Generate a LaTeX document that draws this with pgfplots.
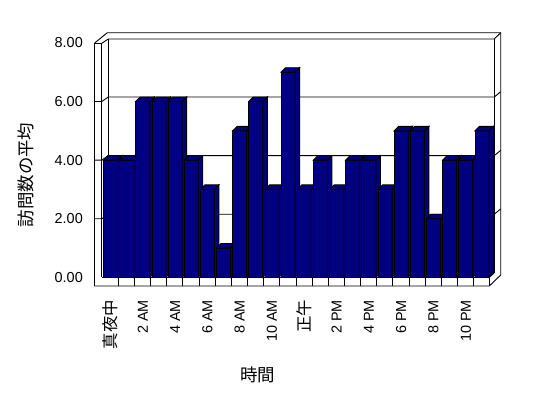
\documentclass[border=0pt]{standalone}
\usepackage{fontspec}
\setmainfont{Liberation Sans}
\newfontfamily\cjk{Noto Sans CJK JP}
\usepackage{pgfplots}
\usepackage{pgfplotstable}
\pgfplotsset{compat=1.18}
\definecolor{barblue}{RGB}{0,0,128}

\pgfplotstableread{
h v
0 4
1 4
2 6
3 6
4 6
5 4
6 3
7 1
8 5
9 6
10 3
11 7
12 3
13 4
14 3
15 4
16 4
17 3
18 5
19 5
20 2
21 4
22 4
23 5
}\visits

\pgfdeclareplotmark{box3d}{%
  \pgfmathsetmacro\hh{\val*29.3}%
  \pgfsetlinewidth{0.9bp}%
  \pgfsetstrokecolor{black}\pgfsetfillcolor{barblue}%
  \pgfpathrectanglecorners{\pgfpoint{-7bp}{0bp}}{\pgfpoint{7bp}{-\hh bp}}%
  \pgfusepath{fill,stroke}%
  \pgfpathmoveto{\pgfpoint{7bp}{0bp}}%
  \pgfpathlineto{\pgfpoint{11.5bp}{4.5bp}}%
  \pgfpathlineto{\pgfpoint{11.5bp}{4.5bp-\hh bp}}%
  \pgfpathlineto{\pgfpoint{7bp}{-\hh bp}}%
  \pgfpathclose
  \pgfusepath{fill,stroke}%
  \pgfpathmoveto{\pgfpoint{-7bp}{0bp}}%
  \pgfpathlineto{\pgfpoint{-2.5bp}{4.5bp}}%
  \pgfpathlineto{\pgfpoint{11.5bp}{4.5bp}}%
  \pgfpathlineto{\pgfpoint{7bp}{0bp}}%
  \pgfpathclose
  \pgfusepath{fill,stroke}%
}

\begin{document}
\begin{tikzpicture}
\begin{scope}[x=1bp,y=-1bp,line width=0.9bp]
\useasboundingbox (0,0) rectangle (548,398);
% left wall slab
\draw (94.3,286) -- (94.3,43.3) -- (101.8,43.3) -- (101.8,277.3);
% outer frame
\draw (94.3,43.3) -- (107.3,32.7) -- (500.7,32.7) -- (500.7,275) -- (489.3,286) -- (94.3,286);
% inner back wall
\draw (101.8,43.3) -- (108.3,39) -- (494.3,39) -- (500.7,32.7);
\draw (108.3,39) -- (108.3,272.8) -- (494.3,272.8) -- (494.3,39);
% gridlines
\foreach \v in {2,4,6}{
  \pgfmathsetmacro\fy{277.3-29.3*\v}
  \pgfmathsetmacro\by{272.8-29.3*\v}
  \pgfmathsetmacro\ry{\by-5.3}
  \draw (94.3,\fy) -- (101.8,\fy) -- (108.3,\by) -- (494.3,\by) -- (500.7,\ry);
}
% floor
\draw (101.8,277.3) -- (489.3,277.3) -- (489.3,286);
\draw (489.3,277.3) -- (494.3,272.8);
\foreach \k in {0,...,22}{
  \pgfmathsetmacro\dx{118.3+16.15*\k}
  \draw (\dx,277.3) -- (\dx,286);
}
\end{scope}

\begin{axis}[
  at={(94.3bp,-277.3bp)}, anchor=south west,
  scale only axis,
  x=16.15bp, y=29.3bp,
  xmin=-1.003, xmax=23.455, ymin=0, ymax=8,
  clip=false,
  axis line style={draw=none},
  major tick length=0pt,
  ytick={0,2,4,6,8},
  scaled y ticks=false,
  /pgf/number format/assume math mode=true,
  yticklabel style={/pgf/number format/fixed, /pgf/number format/fixed zerofill, /pgf/number format/precision=2, anchor=east, inner sep=0pt},
  yticklabel shift=11.3bp,
  xtick={0,2,...,22},
  xticklabels={{\cjk\fontsize{16.5}{17}\selectfont 真夜中},2 AM,4 AM,6 AM,8 AM,10 AM,{\cjk\fontsize{16.5}{17}\selectfont 正午},2 PM,4 PM,6 PM,8 PM,10 PM},
  xticklabel style={rotate=90, anchor=east, inner sep=0pt},
  xticklabel shift=22.5bp,
  tick label style={font=\fontsize{14.5}{15}\selectfont},
  xlabel={\cjk 時間},
  ylabel={\cjk 訪問数の平均},
  label style={font=\fontsize{17.5}{18}\selectfont},
  xlabel style={at={(axis description cs:0.414,-0.417)}, anchor=center},
  ylabel style={at={(axis description cs:-0.173,0.4366)}, anchor=center},
]
\addplot[scatter, only marks, mark=box3d, point meta=y,
  visualization depends on={\thisrow{v} \as \val}]
  table[x=h,y=v]{\visits};
\end{axis}
\end{tikzpicture}
\end{document}
